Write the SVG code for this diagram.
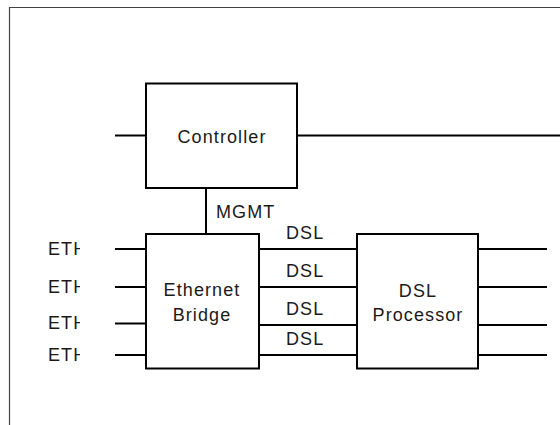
<svg xmlns="http://www.w3.org/2000/svg" width="560" height="425" viewBox="0 0 560 425">
<style>
.box{fill:#fff;stroke:#000;stroke-width:2}
.ln{stroke:#000;stroke-width:2;fill:none}
text{font-family:"Liberation Sans",Arial,sans-serif;font-size:18px;letter-spacing:1.1px;fill:#1a1a1a}
.c{text-anchor:middle}
</style>
<defs>
<clipPath id="ethclip"><rect x="0" y="0" width="80" height="425"/></clipPath>
</defs>
<rect x="0" y="0" width="560" height="425" fill="#fff"/>
<path d="M9.5,425 V7.5 H560" fill="none" stroke="#444" stroke-width="1.2"/>
<g id="connectors">
<line class="ln" x1="115" y1="135.5" x2="146" y2="135.5"/>
<line class="ln" x1="297" y1="135.5" x2="560" y2="135.5"/>
<line class="ln" x1="206" y1="188" x2="206" y2="234"/>
<line class="ln" x1="115" y1="249" x2="146" y2="249"/>
<line class="ln" x1="115" y1="287" x2="146" y2="287"/>
<line class="ln" x1="115" y1="323.5" x2="146" y2="323.5"/>
<line class="ln" x1="115" y1="355" x2="146" y2="355"/>
<line class="ln" x1="259" y1="249" x2="357" y2="249"/>
<line class="ln" x1="259" y1="287" x2="357" y2="287"/>
<line class="ln" x1="259" y1="325" x2="357" y2="325"/>
<line class="ln" x1="259" y1="355" x2="357" y2="355"/>
<line class="ln" x1="478" y1="249" x2="547" y2="249"/>
<line class="ln" x1="478" y1="287" x2="547" y2="287"/>
<line class="ln" x1="478" y1="325" x2="547" y2="325"/>
<line class="ln" x1="478" y1="355" x2="547" y2="355"/>
<text x="216" y="217.5">MGMT</text>
<text x="286" y="239">DSL</text>
<text x="286" y="277">DSL</text>
<text x="286" y="315">DSL</text>
<text x="286" y="344.5">DSL</text>
<g clip-path="url(#ethclip)">
<text x="48" y="255">ETH</text>
<text x="48" y="293">ETH</text>
<text x="48" y="329">ETH</text>
<text x="48" y="361">ETH</text>
</g>
</g>
<g id="controller">
<rect class="box" x="146" y="83.5" width="151" height="104.5"/>
<text class="c" x="222" y="142.5">Controller</text>
</g>
<g id="ethernet-bridge">
<rect class="box" x="146" y="234" width="113" height="134.5"/>
<text class="c" x="202" y="296">Ethernet</text>
<text class="c" x="202" y="320.5">Bridge</text>
</g>
<g id="dsl-processor">
<rect class="box" x="357" y="234" width="121" height="134.5"/>
<text class="c" x="418" y="297">DSL</text>
<text class="c" x="418" y="320.5">Processor</text>
</g>
</svg>
